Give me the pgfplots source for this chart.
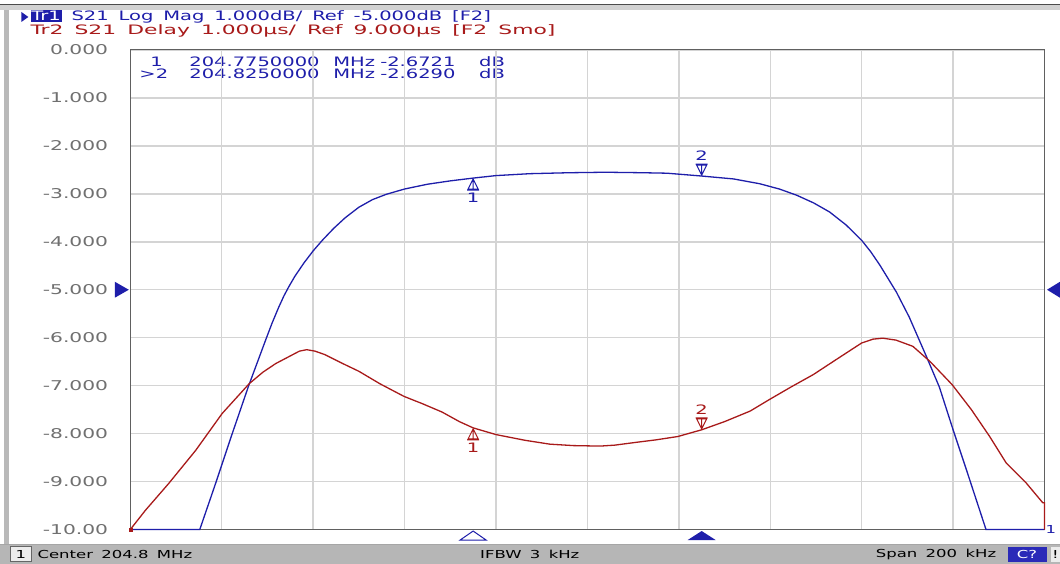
\documentclass[border=0pt]{standalone}
\usepackage{pgfplots}
\pgfplotsset{compat=1.18}
\usepackage{fontspec}
\setmainfont{DejaVu Sans}
\newfontfamily\vna[FakeStretch=1.5,WordSpace=1.6]{DejaVu Sans}
\definecolor{trblue}{HTML}{1E1EAA}
\definecolor{trred}{HTML}{A81A1A}
\definecolor{gridc}{HTML}{D4D4D4}
\definecolor{lblgray}{HTML}{707070}
\definecolor{barg}{HTML}{B6B6B6}
\definecolor{cbox}{HTML}{2A2AB8}
\newcommand{\hf}{\vna\fontsize{13bp}{14bp}\selectfont}
\newcommand{\yf}{\vna\fontsize{13.5bp}{14bp}\selectfont}
\newcommand{\stf}{\vna\fontsize{11bp}{12bp}\selectfont}
\pgfdeclareplotmark{mkup}{%
  \pgfpathmoveto{\pgfqpoint{0bp}{-1bp}}%
  \pgfpathlineto{\pgfqpoint{-5bp}{-11bp}}%
  \pgfpathlineto{\pgfqpoint{5bp}{-11bp}}%
  \pgfpathclose
  \pgfpathmoveto{\pgfqpoint{0bp}{-1bp}}\pgfpathlineto{\pgfqpoint{0bp}{-12bp}}%
  \pgfpathmoveto{\pgfqpoint{-6bp}{-12bp}}\pgfpathlineto{\pgfqpoint{6bp}{-12bp}}%
  \pgfusepathqstroke}
\pgfdeclareplotmark{mkdn}{%
  \pgfpathmoveto{\pgfqpoint{0bp}{1bp}}%
  \pgfpathlineto{\pgfqpoint{-5bp}{11bp}}%
  \pgfpathlineto{\pgfqpoint{5bp}{11bp}}%
  \pgfpathclose
  \pgfpathmoveto{\pgfqpoint{0bp}{1bp}}\pgfpathlineto{\pgfqpoint{0bp}{12bp}}%
  \pgfpathmoveto{\pgfqpoint{-6bp}{12bp}}\pgfpathlineto{\pgfqpoint{6bp}{12bp}}%
  \pgfusepathqstroke}
\begin{document}
\begin{tikzpicture}[x=1bp,y=1bp]
% background and window frame
\fill[white] (0,0) rectangle (1060,564);
\fill[black!70] (0,558.5) rectangle (1060,560);
\fill[gray!35] (0,554) rectangle (1060,558.5);
\fill[gray!55] (4,19) rectangle (9,554);
% status bar
\fill[barg] (0,0) rectangle (1060,19);
\draw[gray!70, line width=0.8bp] (0,19) -- (1060,19);
\fill[gray!15] (10,2) rectangle (31,17);
\draw[gray!80!black, line width=0.6bp] (10,2) rectangle (31,17);
\node[font=\stf, text=black, inner sep=0] at (20.5,9.5) {1};
\node[font=\stf, text=black, anchor=west, inner sep=0] at (37,9.5) {Center 204.8 MHz};
\node[font=\stf, text=black, anchor=west, inner sep=0] at (480,9.5) {IFBW 3 kHz};
\node[font=\stf, text=black, anchor=west, inner sep=0] at (876,9.5) {Span 200 kHz};
\fill[cbox] (1008,2) rectangle (1047,17);
\node[font=\stf, text=white, inner sep=0] at (1027.5,9.5) {C?};
\fill[gray!15] (1051,2) rectangle (1060,17);
\node[font=\stf, text=black, inner sep=0] at (1056,9.5) {!};
% header
\fill[trblue] (21,552) -- (28,547) -- (21,542) -- cycle;
\node[anchor=west, inner sep=0, text=trblue] at (30,547) {\hf\setlength{\fboxsep}{0.8bp}\colorbox{trblue}{\textcolor{white}{Tr1}} S21 Log Mag 1.000dB/ Ref -5.000dB [F2]};
\node[anchor=west, inner sep=0, text=trred] at (30,533) {\scalebox{1.12}[1]{\hf Tr2 S21 Delay 1.000µs/ Ref 9.000µs [F2 Smo]}};
% marker table
\node[anchor=west, inner sep=0, text=trblue, font=\hf] at (150,502) {1};
\node[anchor=west, inner sep=0, text=trblue, font=\hf] at (139,490) {>2};
\node[anchor=west, inner sep=0, text=trblue, font=\hf] at (189,502) {204.7750000};
\node[anchor=west, inner sep=0, text=trblue, font=\hf] at (189,490) {204.8250000};
\node[anchor=west, inner sep=0, text=trblue, font=\hf] at (333,502) {MHz};
\node[anchor=west, inner sep=0, text=trblue, font=\hf] at (333,490) {MHz};
\node[anchor=west, inner sep=0, text=trblue, font=\hf] at (380,502) {-2.6721};
\node[anchor=west, inner sep=0, text=trblue, font=\hf] at (380,490) {-2.6290};
\node[anchor=west, inner sep=0, text=trblue, font=\hf] at (479,502) {dB};
\node[anchor=west, inner sep=0, text=trblue, font=\hf] at (479,490) {dB};
\begin{axis}[
  at={(130bp,34bp)}, anchor=south west,
  scale only axis, width=915bp, height=480bp,
  xmin=0, xmax=200, ymin=-10, ymax=0,
  xtick={0,20,...,200}, xticklabels={},
  ytick={-10,-9,...,0},
  yticklabels={-10.00,-9.000,-8.000,-7.000,-6.000,-5.000,-4.000,-3.000,-2.000,-1.000,0.000},
  yticklabel style={font=\yf, text=lblgray, inner sep=0pt, xshift=-22bp},
  major tick length=0pt,
  grid=major, grid style={gridc, line width=1.5bp},
  axis line style={draw=gray!75!black, line width=1bp},
  clip=false,
]
% Tr1: S21 Log Mag (dB), x = offset from 204.7 MHz in kHz
\addplot[trblue, line width=1.3bp] coordinates {
(0,-10) (15.2,-10) (18.8,-9.0) (22.3,-8.0) (25.9,-7.0) (29.8,-6.0) (31.0,-5.70)
(32.4,-5.38) (33.6,-5.13) (34.6,-4.95) (36.0,-4.72) (38.0,-4.44) (40.0,-4.19)
(42.0,-3.97) (44.5,-3.72) (47.0,-3.50) (50.0,-3.28) (53.0,-3.12) (56.0,-3.01)
(60.0,-2.90) (65.0,-2.80) (70.0,-2.73) (75.0,-2.672) (80.0,-2.62) (87.4,-2.58)
(96.0,-2.56) (104.0,-2.55) (112.0,-2.56) (117.4,-2.57) (125.0,-2.629) (132.0,-2.69)
(137.7,-2.79) (142.0,-2.90) (145.8,-3.03) (149.5,-3.19) (153.0,-3.38) (156.6,-3.65)
(160.0,-3.97) (162.0,-4.21) (164.0,-4.49) (167.6,-5.05) (170.4,-5.57) (174.2,-6.40)
(177.0,-7.03) (180.0,-7.92) (182.8,-8.72) (187.2,-10) (200,-10)};
% Tr2: S21 Delay, displayed on the same grid (9 us at the -5 line, 1 us/div)
\addplot[trred, line width=1.3bp] coordinates {
(0,-10) (3.3,-9.6) (8.4,-9.04) (14.3,-8.35) (20.1,-7.58) (26.0,-6.96) (29.0,-6.72)
(31.8,-6.54) (35.0,-6.38) (37.0,-6.28) (38.6,-6.25) (40.4,-6.28) (42.5,-6.35)
(46.5,-6.54) (50.0,-6.70) (54.6,-6.96) (59.8,-7.22) (64.0,-7.38) (68.2,-7.55)
(72.0,-7.75) (75.0,-7.88) (80.0,-8.02) (86.4,-8.14) (91.8,-8.22) (97.0,-8.25)
(102.8,-8.26) (106.0,-8.24) (110.0,-8.19) (115.0,-8.13) (119.8,-8.06)
(125.0,-7.92) (130.0,-7.75) (135.6,-7.53) (139.8,-7.29) (144.5,-7.03)
(149.4,-6.77) (155.0,-6.42) (160.0,-6.11) (162.5,-6.03) (164.6,-6.01)
(167.5,-6.05) (171.2,-6.18) (175.0,-6.50) (179.8,-6.98) (184.0,-7.50)
(188.0,-8.06) (191.6,-8.61) (196.0,-9.03) (199.6,-9.44) (200,-9.44) (200,-10)};
\addplot[trred, only marks, mark=square*, mark size=1.5bp] coordinates {(0,-10)};
% markers
\addplot[trblue, only marks, mark=mkup, mark options={line width=1bp}] coordinates {(75,-2.6721)};
\addplot[trblue, only marks, mark=mkdn, mark options={line width=1bp}] coordinates {(125,-2.629)};
\addplot[trred, only marks, mark=mkup, mark options={line width=1bp}] coordinates {(75,-7.88)};
\addplot[trred, only marks, mark=mkdn, mark options={line width=1bp}] coordinates {(125,-7.92)};
\node[text=trblue, font=\hf, inner sep=0] at ([yshift=-20bp]axis cs:75,-2.6721) {1};
\node[text=trblue, font=\hf, inner sep=0] at ([yshift=20bp]axis cs:125,-2.629) {2};
\node[text=trred, font=\hf, inner sep=0] at ([yshift=-20bp]axis cs:75,-7.88) {1};
\node[text=trred, font=\hf, inner sep=0] at ([yshift=20bp]axis cs:125,-7.92) {2};
\node[text=trblue, font=\stf, inner sep=0, anchor=west] at ([xshift=1bp]axis cs:200,-10) {1};
% stimulus markers below the grid
\draw[trblue, line width=1bp, fill=white] ([yshift=-1.5bp]axis cs:75,-10) -- ++(-13bp,-9bp) -- ++(26bp,0bp) -- cycle;
\fill[trblue] ([yshift=-1.5bp]axis cs:125,-10) -- ++(-14bp,-9bp) -- ++(28bp,0bp) -- cycle;
% reference level arrows
\fill[trblue] ([xshift=-1.5bp]axis cs:0,-5) -- ++(-14bp,8bp) -- ++(0bp,-16bp) -- cycle;
\fill[trblue] ([xshift=2.5bp]axis cs:200,-5) -- ++(13bp,8bp) -- ++(0bp,-16bp) -- cycle;
\end{axis}
\end{tikzpicture}
\end{document}
